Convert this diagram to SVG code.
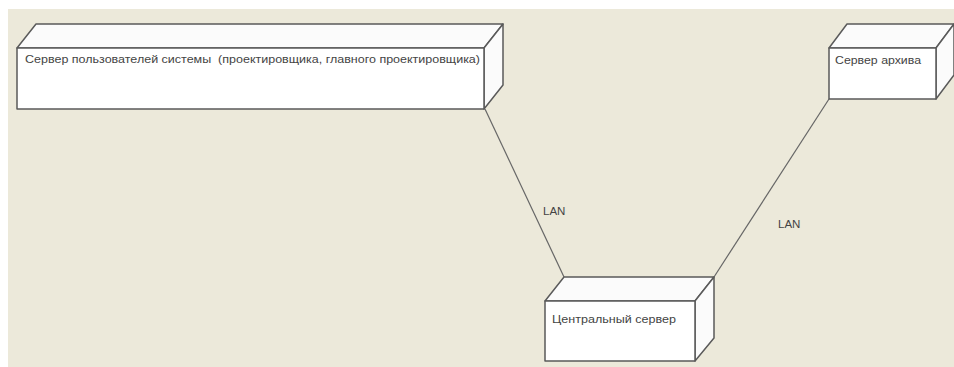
<svg xmlns="http://www.w3.org/2000/svg" width="954" height="367" viewBox="0 0 954 367">
<style>
.face{fill:#ffffff;stroke:#5a5a5a;stroke-width:1.5;stroke-linejoin:round}
.side{fill:#fbfbfb;stroke:#5a5a5a;stroke-width:1.5;stroke-linejoin:round}
.lbl{font-family:"Liberation Sans",Arial,sans-serif;font-size:11.5px;fill:#444444;white-space:pre}
.conn{stroke:#666666;stroke-width:1.2;fill:none}
</style>
<rect x="0" y="0" width="954" height="367" fill="#ffffff"/>
<rect x="8" y="9" width="946" height="358" fill="#ECE9DA"/>
<g id="connectors">
<line class="conn" x1="485" y1="109" x2="564" y2="277"/>
<line class="conn" x1="714" y1="277" x2="829" y2="99"/>
<text class="lbl" x="543" y="215">LAN</text>
<text class="lbl" x="778" y="228">LAN</text>
</g>
<g id="node-users-server">
<polygon class="side" points="17,48 36,24 503,24 484,48"/>
<polygon class="side" points="484,48 503,24 503,85 484,109"/>
<rect class="face" x="17" y="48" width="467" height="61"/>
<text class="lbl" x="25" y="63" textLength="455" lengthAdjust="spacingAndGlyphs" xml:space="preserve">Сервер пользователей системы  (проектировщика, главного проектировщика)</text>
</g>
<g id="node-archive-server">
<polygon class="side" points="829,48 847,24 954,24 936,48"/>
<polygon class="side" points="936,48 954,24 954,75 936,99"/>
<rect class="face" x="829" y="48" width="107" height="51"/>
<text class="lbl" x="835" y="64" textLength="86" lengthAdjust="spacingAndGlyphs">Сервер архива</text>
</g>
<g id="node-central-server">
<polygon class="side" points="545,301 564,277 714,277 695,301"/>
<polygon class="side" points="695,301 714,277 714,338 695,361"/>
<rect class="face" x="545" y="301" width="150" height="60"/>
<text class="lbl" x="552" y="323" textLength="124" lengthAdjust="spacingAndGlyphs">Центральный сервер</text>
</g>
</svg>
